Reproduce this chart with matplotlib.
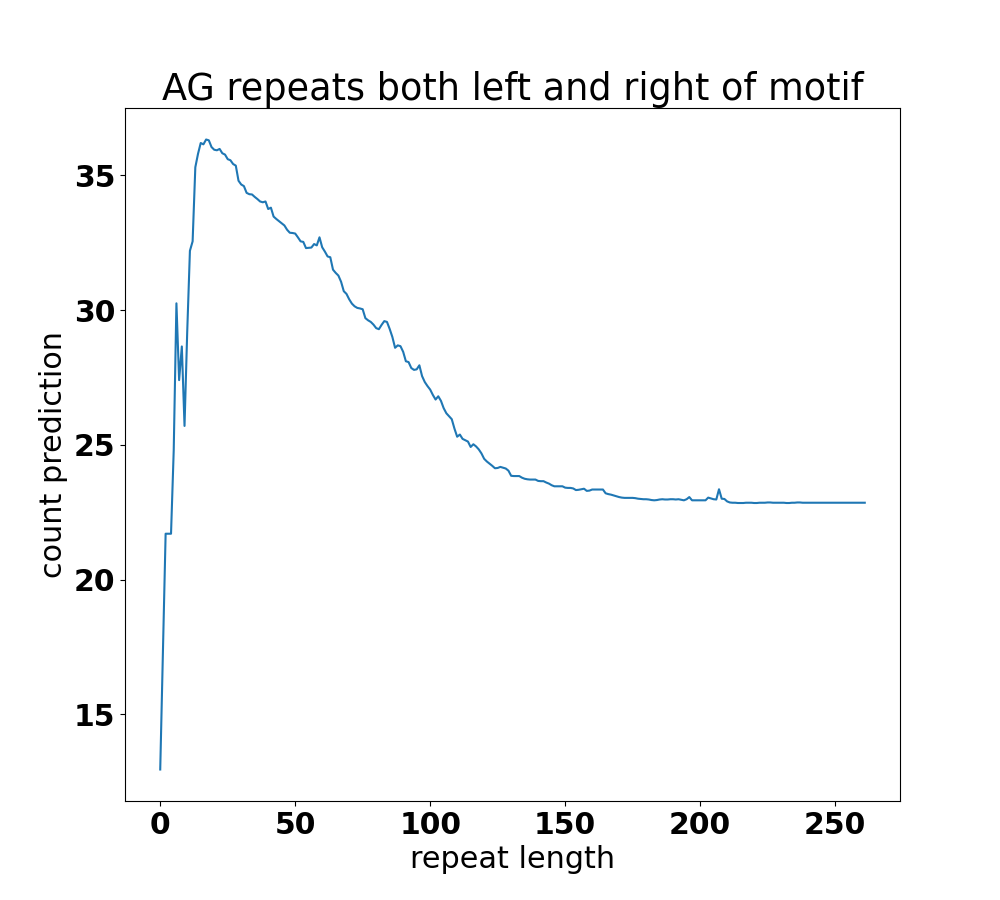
import matplotlib
matplotlib.use("Agg")
import matplotlib.pyplot as plt
import numpy as np

title = "AG repeats both left and right of motif"
xlabel = "repeat length"
ylabel = "count prediction"

# prediction for repeat length 0..261
prediction = [
    12.95, 17.30, 21.70, 21.70, 21.70, 24.80, 30.25, 27.40, 28.65, 25.70,
    29.20, 32.20, 32.55, 35.30, 35.80, 36.20, 36.15, 36.33, 36.30, 36.05,
    35.95, 35.93, 35.98, 35.82, 35.77, 35.60, 35.56, 35.42, 35.36, 34.80,
    34.66, 34.60, 34.35, 34.30, 34.29, 34.20, 34.12, 34.03, 34.00, 34.03,
    33.75, 33.80, 33.47, 33.38, 33.30, 33.22, 33.14, 32.98, 32.87, 32.86,
    32.84, 32.70, 32.55, 32.53, 32.30, 32.31, 32.32, 32.45, 32.40, 32.70,
    32.33, 32.17, 31.99, 31.96, 31.50, 31.38, 31.28, 31.05, 30.70, 30.60,
    30.40, 30.24, 30.14, 30.08, 30.06, 30.03, 29.70, 29.62, 29.56, 29.46,
    29.33, 29.29, 29.45, 29.59, 29.56, 29.30, 29.00, 28.60, 28.69, 28.66,
    28.45, 28.10, 28.07, 27.85, 27.78, 27.80, 27.95, 27.55, 27.33, 27.18,
    27.05, 26.85, 26.68, 26.80, 26.63, 26.36, 26.17, 26.06, 25.95, 25.60,
    25.30, 25.38, 25.22, 25.17, 25.12, 24.92, 25.02, 24.94, 24.83, 24.68,
    24.48, 24.38, 24.30, 24.22, 24.13, 24.14, 24.18, 24.15, 24.12, 24.04,
    23.85, 23.84, 23.84, 23.84, 23.78, 23.74, 23.72, 23.71, 23.71, 23.71,
    23.66, 23.65, 23.65, 23.60, 23.56, 23.50, 23.46, 23.46, 23.46, 23.46,
    23.41, 23.40, 23.40, 23.38, 23.32, 23.33, 23.35, 23.37, 23.29, 23.30,
    23.34, 23.34, 23.34, 23.34, 23.34, 23.20, 23.17, 23.15, 23.12, 23.09,
    23.06, 23.04, 23.03, 23.03, 23.03, 23.03, 23.02, 23.00, 22.99, 22.98,
    22.98, 22.97, 22.95, 22.94, 22.95, 22.97, 22.98, 22.97, 22.97, 22.98,
    22.98, 22.97, 22.98, 22.96, 22.94, 22.98, 23.06, 22.94, 22.94, 22.94,
    22.94, 22.94, 22.94, 23.04, 23.01, 22.98, 22.97, 23.35, 23.00, 22.99,
    22.90, 22.86, 22.85, 22.85, 22.84, 22.84, 22.84, 22.85, 22.85, 22.85,
    22.84, 22.84, 22.85, 22.85, 22.85, 22.86, 22.86, 22.85, 22.85, 22.85,
    22.85, 22.85, 22.84, 22.84, 22.85, 22.85, 22.86, 22.86, 22.85, 22.85,
    22.85, 22.85, 22.85, 22.85, 22.85, 22.85, 22.85, 22.85, 22.85, 22.85,
    22.85, 22.85, 22.85, 22.85, 22.85, 22.85, 22.85, 22.85, 22.85, 22.85,
    22.85, 22.85,
]
repeat_length = np.arange(len(prediction))

fig = plt.figure(figsize=(10, 9), dpi=100)
ax = fig.add_subplot(111)
ax.plot(repeat_length, prediction, color="#1f77b4", linewidth=1.5)
ax.set_title(title, fontsize=26.4)
ax.set_xlabel(xlabel, fontsize=21.8)
ax.set_ylabel(ylabel, fontsize=21.8)
ax.set_xticks([0, 50, 100, 150, 200, 250])
ax.set_yticks([15, 20, 25, 30, 35])
for lab in ax.get_xticklabels() + ax.get_yticklabels():
    lab.set_fontweight("bold")
    lab.set_fontsize(21.5)
fig.savefig("out.png", dpi=100)
